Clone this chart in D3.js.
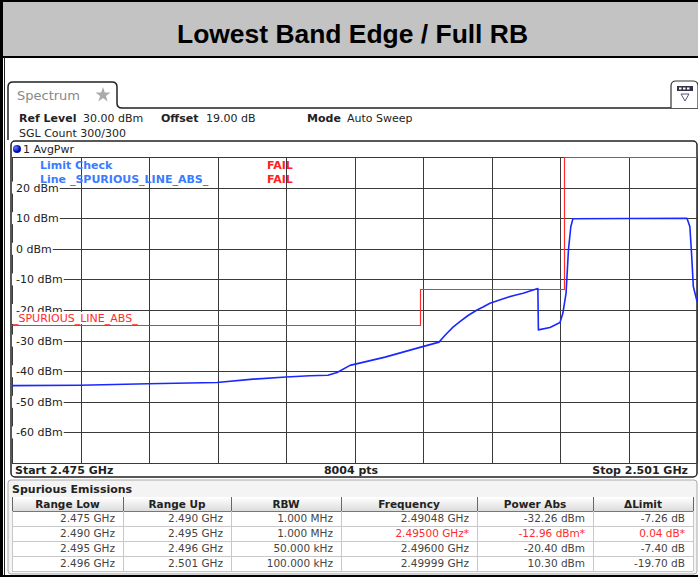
<!DOCTYPE html>
<html>
<head>
<meta charset="utf-8">
<script src="https://cdn.jsdelivr.net/npm/d3@7"></script>
<style>
body { margin: 0; background: #fff; }
text { font-family: "DejaVu Sans", Verdana, sans-serif; }
</style>
</head>
<body>
<svg width="698" height="577"></svg>
<script>

// trace 1 (AvgPwr): frequency in GHz, level in dBm
var traceFreq = [2.47500, 2.47758, 2.48016, 2.48278, 2.48415, 2.48540, 2.48631, 2.48699,
                 2.48734, 2.48783, 2.48916, 2.49045, 2.49121, 2.49136, 2.49151, 2.49174,
                 2.49200, 2.49231, 2.49265, 2.49288, 2.49314, 2.49345, 2.49379, 2.49409,
                 2.49440, 2.49466, 2.49496, 2.49498, 2.49542, 2.49580, 2.49591, 2.49603,
                 2.49612, 2.49621, 2.49629, 2.50062, 2.50073, 2.50080, 2.50086, 2.50100];
var traceLevel = [-44.7, -44.6, -44.1, -43.7, -42.6, -41.9, -41.5, -41.3,
                  -40.4, -38.1, -35.4, -32.3, -30.5, -29.0, -27.6, -25.6,
                  -23.8, -21.8, -20.0, -19.0, -17.8, -16.9, -15.9, -15.2,
                  -14.5, -13.8, -13.0, -26.5, -25.7, -24.1, -21.0, -14.5,
                  -0.4, 7.2, 9.8, 10.0, 7.2, -2.5, -12.3, -17.2];

// limit line _SPURIOUS_LINE_ABS_
var limitFreq = [2.475, 2.49047, 2.49047, 2.49595, 2.49595, 2.501];
var limitLevel = [-25, -25, -13, -13, 30, 30];

var levelTicks = [20, 10, 0, -10, -20, -30, -40, -50, -60];

// spurious emissions table
var tableHeads = ["Range Low", "Range Up", "RBW", "Frequency", "Power Abs", "\u0394Limit"];
var rangeLow = ["2.475 GHz", "2.490 GHz", "2.495 GHz", "2.496 GHz"];
var rangeUp = ["2.490 GHz", "2.495 GHz", "2.496 GHz", "2.501 GHz"];
var rbw = ["1.000 MHz", "1.000 MHz", "50.000 kHz", "100.000 kHz"];
var peakFreq = ["2.49048 GHz", "2.49500 GHz*", "2.49600 GHz", "2.49999 GHz"];
var powerAbs = ["-32.26 dBm", "-12.96 dBm*", "-20.40 dBm", "10.30 dBm"];
var deltaLimit = ["-7.26 dB", "0.04 dB*", "-7.40 dB", "-19.70 dB"];
var failRow = [false, true, false, false];

var svg = d3.select("svg");
var defs = svg.append("defs");

var x = d3.scaleLinear().domain([2.475, 2.501]).range([12, 697]);
var y = d3.scaleLinear().domain([-70, 30]).range([463, 157]);

// title bar
svg.append("rect").attr("x", 0).attr("y", 0).attr("width", 698).attr("height", 57).attr("fill", "#c3c3c3");
svg.append("rect").attr("x", 0).attr("y", 0).attr("width", 698).attr("height", 2).attr("fill", "#000");
svg.append("rect").attr("x", 0).attr("y", 56).attr("width", 698).attr("height", 2).attr("fill", "#000");
svg.append("text").attr("x", 177).attr("y", 43)
    .attr("textLength", 351).attr("lengthAdjust", "spacingAndGlyphs")
    .style("font-family", "'Liberation Sans', Arial, sans-serif")
    .style("font-weight", "bold").style("font-size", "25px")
    .text("Lowest Band Edge / Full RB");

// outer frame left / bottom
svg.append("rect").attr("x", 0).attr("y", 0).attr("width", 3).attr("height", 577).attr("fill", "#000");
svg.append("rect").attr("x", 4).attr("y", 57).attr("width", 1).attr("height", 520).attr("fill", "#222");
svg.append("rect").attr("x", 0).attr("y", 575).attr("width", 698).attr("height", 2).attr("fill", "#000");

// spectrum tab
svg.append("path")
    .attr("d", "M8,140 L8,87 Q8,82 13,82 L112,82 Q117,82 117,87 L117,103 Q117,108 122,108 L698,108")
    .attr("fill", "none").attr("stroke", "#222").attr("stroke-width", 1.5);
svg.append("text").attr("x", 17).attr("y", 100).attr("fill", "#888").style("font-size", "13px").text("Spectrum");
var star = d3.symbol().type(d3.symbolStar).size(70);
svg.append("path").attr("d", star()).attr("transform", "translate(103,95)").attr("fill", "#aaa");

// right icon
svg.append("path")
    .attr("d", "M671,108 L671,86 Q671,81 676,81 L693,81 Q698,81 698,86 L698,108")
    .attr("fill", "#fff").attr("stroke", "#333").attr("stroke-width", 1.2);
svg.append("rect").attr("x", 677).attr("y", 86).attr("width", 16).attr("height", 5).attr("fill", "#334");
[679, 683, 687].forEach(function(d) {
  svg.append("rect").attr("x", d).attr("y", 87.5).attr("width", 2.5).attr("height", 2).attr("fill", "#fff");
});
svg.append("path").attr("d", "M681,94 L689,94 L685,101 Z").attr("fill", "none").attr("stroke", "#557").attr("stroke-width", 1);

// settings lines
function info(xp, yp, bold, s) {
  svg.append("text").attr("x", xp).attr("y", yp).attr("fill", "#222")
      .style("font-size", "11px").style("font-weight", bold ? "bold" : "normal").text(s);
}
info(19, 122, true, "Ref Level");
info(83, 122, false, "30.00 dBm");
info(161, 122, true, "Offset");
info(206, 122, false, "19.00 dB");
info(307, 122, true, "Mode");
info(347, 122, false, "Auto Sweep");
info(19, 137, false, "SGL Count 300/300");

// plot panel
svg.append("rect").attr("x", 11).attr("y", 141).attr("width", 686).attr("height", 336).attr("rx", 4)
    .attr("fill", "#fff").attr("stroke", "#222").attr("stroke-width", 1.5);
var dotGrad = defs.append("radialGradient").attr("id", "dot").attr("cx", "35%").attr("cy", "35%");
dotGrad.append("stop").attr("offset", "0%").attr("stop-color", "#6a7cff");
dotGrad.append("stop").attr("offset", "100%").attr("stop-color", "#0010b0");
svg.append("circle").attr("cx", 17).attr("cy", 149).attr("r", 4).attr("fill", "url(#dot)");
svg.append("text").attr("x", 23).attr("y", 153).attr("fill", "#222").style("font-size", "11px").text("1 AvgPwr");

// grid
var grid = svg.append("g").attr("stroke", "#3a3a3a").attr("stroke-width", 1);
d3.range(0, 11).forEach(function(i) {
  var f = 2.475 + i * 0.0026;
  grid.append("line").attr("x1", Math.round(x(f)) + 0.5).attr("x2", Math.round(x(f)) + 0.5)
      .attr("y1", y(30)).attr("y2", y(-70));
});
d3.range(-70, 31, 10).forEach(function(v) {
  grid.append("line").attr("x1", x(2.475)).attr("x2", x(2.501))
      .attr("y1", Math.round(y(v)) + 0.5).attr("y2", Math.round(y(v)) + 0.5);
});

// level labels
var lab = svg.append("g");
levelTicks.forEach(function(v) {
  var t = lab.append("text").attr("x", 16).attr("y", y(v) + 4).attr("fill", "#222")
      .style("font-size", "11px").text(v + " dBm");
  var w = t.node().getComputedTextLength();
  lab.insert("rect", "text").attr("x", 12).attr("y", y(v) - 6).attr("width", w + 5).attr("height", 12).attr("fill", "#fff");
});

// limit line
var clip = defs.append("clipPath").attr("id", "plot");
clip.append("rect").attr("x", 12).attr("y", 156).attr("width", 685).attr("height", 308);

var limitPts = limitFreq.map(function(f, i) { return [f, limitLevel[i]]; });
svg.append("path").datum(limitPts)
    .attr("clip-path", "url(#plot)")
    .attr("d", d3.line().x(function(d) { return Math.round(x(d[0])) + 0.5; }).y(function(d) { return Math.round(y(d[1])) + 0.5; }))
    .attr("fill", "none").attr("stroke", "#ff2a2a").attr("stroke-width", 1.2);

svg.append("rect").attr("x", 12).attr("y", 312).attr("width", 129).attr("height", 12).attr("fill", "#fff");
svg.append("text").attr("x", 13).attr("y", 321.5).attr("fill", "#ff2a2a").style("font-size", "11px")
    .text("_SPURIOUS_LINE_ABS_");

// trace
var tracePts = traceFreq.map(function(f, i) { return [f, traceLevel[i]]; });
svg.append("path").datum(tracePts)
    .attr("clip-path", "url(#plot)")
    .attr("d", d3.line().x(function(d) { return x(d[0]); }).y(function(d) { return y(d[1]); }))
    .attr("fill", "none").attr("stroke", "#1a28ff").attr("stroke-width", 1.6)
    .attr("stroke-linejoin", "round");

// limit check
function lc(xp, yp, col, s) {
  svg.append("text").attr("x", xp).attr("y", yp).attr("fill", col)
      .style("font-size", "11px").style("font-weight", "bold").text(s);
}
lc(40, 169, "#3a7cff", "Limit Check");
lc(267, 169, "#ff2020", "FAIL");
lc(40, 183, "#3a7cff", "Line _SPURIOUS_LINE_ABS_");
lc(267, 183, "#ff2020", "FAIL");

// status bar
svg.append("text").attr("x", 15).attr("y", 474).attr("fill", "#222").style("font-size", "11px").style("font-weight", "bold").text("Start 2.475 GHz");
svg.append("text").attr("x", 351).attr("y", 474).attr("text-anchor", "middle").attr("fill", "#222").style("font-size", "11px").style("font-weight", "bold").text("8004 pts");
svg.append("text").attr("x", 688).attr("y", 474).attr("text-anchor", "end").attr("fill", "#222").style("font-size", "11px").style("font-weight", "bold").text("Stop 2.501 GHz");

// spurious emissions table
svg.append("rect").attr("x", 8).attr("y", 480).attr("width", 689).attr("height", 94).attr("rx", 3)
    .attr("fill", "#f4f4f4").attr("stroke", "#aaa");
svg.append("text").attr("x", 12).attr("y", 493).attr("fill", "#222").style("font-size", "11px").style("font-weight", "bold").text("Spurious Emissions");

var colEdges = [12, 123, 231, 341, 477, 593, 693];
var cols = [rangeLow, rangeUp, rbw, peakFreq, powerAbs, deltaLimit];
var tbl = svg.append("g");
var hg = defs.append("linearGradient").attr("id", "hdr").attr("x2", 0).attr("y2", 1);
hg.append("stop").attr("offset", "0%").attr("stop-color", "#ffffff");
hg.append("stop").attr("offset", "100%").attr("stop-color", "#dcdcdc");
tbl.append("rect").attr("x", 12).attr("y", 497).attr("width", 681).attr("height", 14).attr("fill", "url(#hdr)");
tbl.append("rect").attr("x", 12).attr("y", 511).attr("width", 681).attr("height", 60).attr("fill", "#fff");
d3.range(0, 5).forEach(function(r) {
  tbl.append("line").attr("x1", 12).attr("x2", 693).attr("y1", 511.5 + r * 15).attr("y2", 511.5 + r * 15)
      .attr("stroke", r === 0 ? "#777" : "#c8c8c8");
});
colEdges.forEach(function(e) {
  tbl.append("line").attr("x1", e + 0.5).attr("x2", e + 0.5).attr("y1", 497).attr("y2", 511)
      .attr("stroke", "#666");
  tbl.append("line").attr("x1", e + 0.5).attr("x2", e + 0.5).attr("y1", 511).attr("y2", 571)
      .attr("stroke", "#c8c8c8");
});
tableHeads.forEach(function(h, i) {
  tbl.append("text").attr("x", (colEdges[i] + colEdges[i + 1]) / 2).attr("y", 508)
      .attr("text-anchor", "middle").attr("fill", "#222")
      .style("font-size", "10.5px").style("font-weight", "bold").text(h);
});
cols.forEach(function(c, i) {
  c.forEach(function(v, r) {
    tbl.append("text").attr("x", colEdges[i + 1] - 8).attr("y", 522 + r * 15)
        .attr("text-anchor", "end").attr("fill", failRow[r] && i >= 3 ? "#ff2a2a" : "#444")
        .style("font-size", "10.5px").text(v);
  });
});
</script>
</body>
</html>
